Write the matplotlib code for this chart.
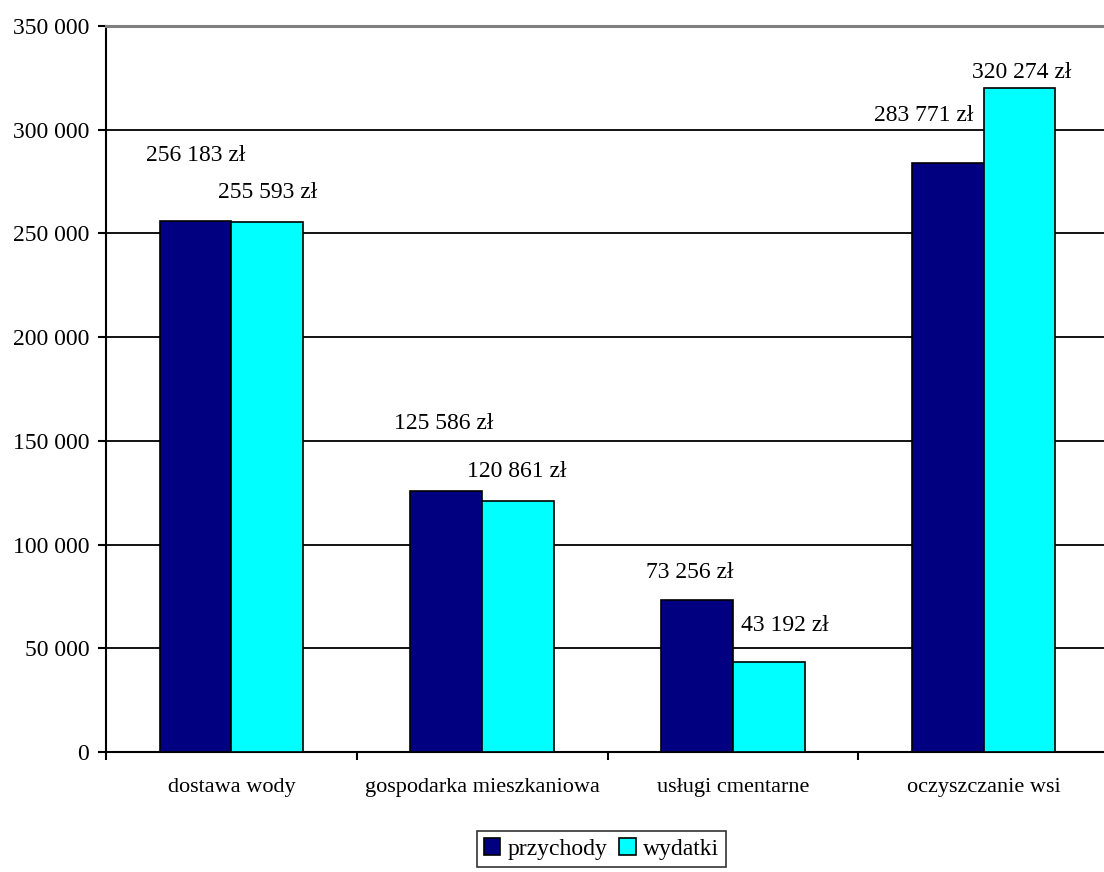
import matplotlib
matplotlib.use("Agg")
from matplotlib import pyplot as plt
from matplotlib.ticker import FuncFormatter
import numpy as np

# dane wykresu
kategorie = ["dostawa wody", "gospodarka mieszkaniowa", "usługi cmentarne", "oczyszczanie wsi"]
przychody = [256183, 125586, 73256, 283771]
wydatki = [255593, 120861, 43192, 320274]
serie = ["przychody", "wydatki"]

# przesuniecia etykiet (piksele: dx, dy nad szczytem slupka)
off_przych = [(0, 65), (-3, 68), (-7, 28), (-24, 48)]
off_wyd = [(0, 29), (-1, 30), (16, 37), (2, 15)]

def fmt(v):
    return "{:,}".format(int(v)).replace(",", " ")

plt.rcParams["font.family"] = ["Liberation Serif", "DejaVu Serif"]
plt.rcParams["font.size"] = 17

fig = plt.figure(figsize=(11.04, 8.72), dpi=100)
ax = fig.add_axes([106 / 1104, 1 - 752 / 872, 1003 / 1104, 726 / 872])

x = np.arange(len(kategorie))
w = 1 / 3.5
b1 = ax.bar(x - w / 2, przychody, w, color="#000080", edgecolor="black", linewidth=1.2, label=serie[0], zorder=3)
b2 = ax.bar(x + w / 2, wydatki, w, color="#00FFFF", edgecolor="black", linewidth=1.2, label=serie[1], zorder=3)

for bars, vals, offs in ((b1, przychody, off_przych), (b2, wydatki, off_wyd)):
    for r, v, (dx, dy) in zip(bars, vals, offs):
        ax.annotate(fmt(v) + " zł", (r.get_x() + r.get_width() / 2, v),
                    xytext=(dx * 0.72, dy * 0.72), textcoords="offset points",
                    ha="center", va="center", fontsize=17)

ax.set_xlim(-0.5, len(kategorie) - 0.5)
ax.set_ylim(0, 350000)
ax.set_yticks(np.arange(0, 350001, 50000))
ax.yaxis.set_major_formatter(FuncFormatter(lambda v, p: fmt(v)))
ax.set_xticks(np.arange(-0.5, len(kategorie)))
ax.set_xticklabels([])
ax.set_xticks(x, minor=True)
ax.set_xticklabels(kategorie, minor=True, fontsize=16)
ax.tick_params(axis="x", which="minor", length=0, pad=19)
ax.tick_params(axis="x", which="major", length=6, width=1.5, direction="out")
ax.tick_params(axis="y", length=6, width=1.5, direction="out", pad=6)

ax.grid(axis="y", color="black", linewidth=1.3, zorder=0)
for s in ("top", "right"):
    ax.spines[s].set_visible(False)
ax.spines["left"].set_linewidth(1.5)
ax.spines["bottom"].set_linewidth(1.5)
ax.axhline(350000, color="#808080", linewidth=2.2, zorder=5, clip_on=False)

leg = ax.legend(loc="upper center", bbox_to_anchor=(0.494, -0.109), ncol=2, frameon=True,
                fancybox=False, edgecolor="black", handlelength=0.7, handleheight=0.7,
                handletextpad=0.3, columnspacing=0.5, borderpad=0.3, borderaxespad=0,
                fontsize=17)
leg.get_frame().set_linewidth(1.2)

fig.savefig("out.png", dpi=100)
